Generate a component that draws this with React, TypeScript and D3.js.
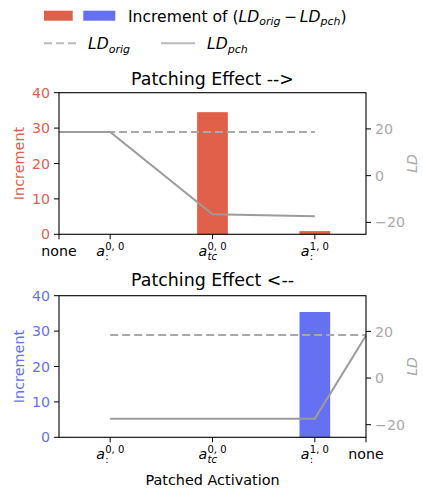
import React from 'react';
import * as d3 from 'd3';

// x positions: a0 = 0, atc = 1, a1 = 2, "none" sits half a step outside
const topPositions = [-0.5, 0, 1, 2];
const topLabels = ['none', 'a00', 'atc', 'a10'];
const topIncrement = [0, 0, 34.5, 0.9];
const topLdOrig = [18.7, 18.7, 18.7, 18.7];
const topLdPch = [18.7, 18.7, -16.5, -17.4];

const bottomPositions = [0, 1, 2, 2.5];
const bottomLabels = ['a00', 'atc', 'a10', 'none'];
const bottomIncrement = [0, 0, 35.4, 0];
const bottomLdOrig = [18.5, 18.5, 18.5, 18.5];
const bottomLdPch = [-17.5, -17.5, -17.4, 18.2];

const leftTicks = [0, 10, 20, 30, 40];
const rightTicks = [-20, 0, 20];

const RED = '#e0604a';
const BLUE = '#6570f2';
const LINE = '#9c9c9c';
const DASH = '#a8a8a8';
const RIGHT_TXT = '#a9a9a9';
const FONT = 'DejaVu Sans';

const W = 423;
const H = 489;

const MathTick = ({ x, y, kind }) => {
  if (kind === 'none') {
    return (
      <text x={x} y={y} textAnchor="middle" fontSize={14.2} fontFamily={FONT}>
        none
      </text>
    );
  }
  const sup = kind === 'a10' ? '1, 0' : '0, 0';
  const sub = kind === 'atc' ? 'tc' : ':';
  const x0 = x - 14;
  return (
    <g fontFamily={FONT}>
      <text x={x0} y={y} fontSize={14.2} fontStyle="italic">a</text>
      <text x={x0 + 9} y={y - 6} fontSize={10}>{sup}</text>
      <text x={x0 + 9} y={y + 4} fontSize={10} fontStyle={kind === 'atc' ? 'italic' : 'normal'}>{sub}</text>
    </g>
  );
};

const Panel = ({ top, positions, labels, increment, ldOrig, ldPch, barColor, rightDomain, title, titleY }) => {
  const left = 59;
  const right = 366;
  const height = 141.6;
  const x = d3.scaleLinear().domain([-0.5, 2.5]).range([left, right]);
  const yL = d3.scaleLinear().domain([0, 40]).range([top + height, top]);
  const yR = d3.scaleLinear().domain(rightDomain).range([top + height, top]);
  const bw = x(0.3) - x(0);

  const origLine = d3.line().x((d) => x(d[0])).y((d) => yR(d[1]))(positions.map((p, i) => [p, ldOrig[i]]));
  const pchLine = d3.line().x((d) => x(d[0])).y((d) => yR(d[1]))(positions.map((p, i) => [p, ldPch[i]]));

  return (
    <g fontFamily={FONT}>
      <text x={(left + right) / 2} y={titleY} textAnchor="middle" fontSize={17.4}>{title}</text>
      {positions.map((p, i) =>
        increment[i] > 0 ? (
          <rect key={i} x={x(p) - bw / 2} y={yL(increment[i])} width={bw} height={yL(0) - yL(increment[i])} fill={barColor} />
        ) : null
      )}
      <path d={origLine} fill="none" stroke={DASH} strokeWidth={2} strokeDasharray="8,4" />
      <path d={pchLine} fill="none" stroke={LINE} strokeWidth={2} />
      <rect x={left} y={top} width={right - left} height={height} fill="none" stroke="#000" strokeWidth={1.1} />
      {leftTicks.map((t) => (
        <g key={t}>
          <line x1={left - 5} x2={left} y1={yL(t)} y2={yL(t)} stroke="#000" />
          <text x={left - 9} y={yL(t)} dy="0.36em" textAnchor="end" fontSize={14.2} fill={barColor}>{t}</text>
        </g>
      ))}
      {rightTicks.map((t) => (
        <g key={t}>
          <line x1={right} x2={right + 5} y1={yR(t)} y2={yR(t)} stroke="#000" />
          <text x={right + 9} y={yR(t)} dy="0.36em" fontSize={14.2} fill={RIGHT_TXT}>
            {t < 0 ? '\u2212' + Math.abs(t) : t}
          </text>
        </g>
      ))}
      {positions.map((p, i) => (
        <g key={i}>
          <line x1={x(p)} x2={x(p)} y1={top + height} y2={top + height + 5} stroke="#000" />
          <MathTick x={x(p)} y={top + height + 22} kind={labels[i]} />
        </g>
      ))}
      <text transform={`translate(23.5,${top + height / 2}) rotate(-90)`} textAnchor="middle" fontSize={14.4} fill={barColor}>
        Increment
      </text>
      <text transform={`translate(417,${top + height / 2}) rotate(-90)`} textAnchor="middle" fontSize={14} fontStyle="italic" fill={RIGHT_TXT}>
        LD
      </text>
    </g>
  );
};

export default function App() {
  return (
    <svg width={W} height={H} style={{ position: 'absolute', left: 0, top: 0 }} fontFamily={FONT}>
      <rect width={W} height={H} fill="#fff" />
      {/* legend */}
      <rect x={44} y={10.7} width={28.7} height={10} fill={RED} />
      <rect x={83.3} y={10.7} width={32} height={10} fill={BLUE} />
      <text x={128} y={21.7} fontSize={15.6}>
        <tspan>Increment of (</tspan>
        <tspan fontStyle="italic">LD</tspan>
        <tspan fontStyle="italic" fontSize={11} dy={3.5}>orig</tspan>
        <tspan dy={-3.5}>{'\u2009\u2212\u2009'}</tspan>
        <tspan fontStyle="italic">LD</tspan>
        <tspan fontStyle="italic" fontSize={11} dy={3.5}>pch</tspan>
        <tspan dy={-3.5}>)</tspan>
      </text>
      <line x1={44} x2={76} y1={43.3} y2={43.3} stroke="#bbb" strokeWidth={2} strokeDasharray="8,4" />
      <text x={88} y={49.3} fontSize={15.6} fontStyle="italic">
        LD<tspan fontSize={11} dy={3.5}>orig</tspan>
      </text>
      <line x1={161} x2={195} y1={43.3} y2={43.3} stroke="#bbb" strokeWidth={2} />
      <text x={207} y={49.3} fontSize={15.6} fontStyle="italic">
        LD<tspan fontSize={11} dy={3.5}>pch</tspan>
      </text>

      <Panel
        top={92.7}
        positions={topPositions}
        labels={topLabels}
        increment={topIncrement}
        ldOrig={topLdOrig}
        ldPch={topLdPch}
        barColor={RED}
        rightDomain={[-25.1, 35.5]}
        title="Patching Effect -->"
        titleY={84.5}
      />
      <Panel
        top={295.7}
        positions={bottomPositions}
        labels={bottomLabels}
        increment={bottomIncrement}
        ldOrig={bottomLdOrig}
        ldPch={bottomLdPch}
        barColor={BLUE}
        rightDomain={[-25.4, 35.3]}
        title="Patching Effect <--"
        titleY={286}
      />
      <text x={212.5} y={485} textAnchor="middle" fontSize={14.4}>Patched Activation</text>
    </svg>
  );
}
